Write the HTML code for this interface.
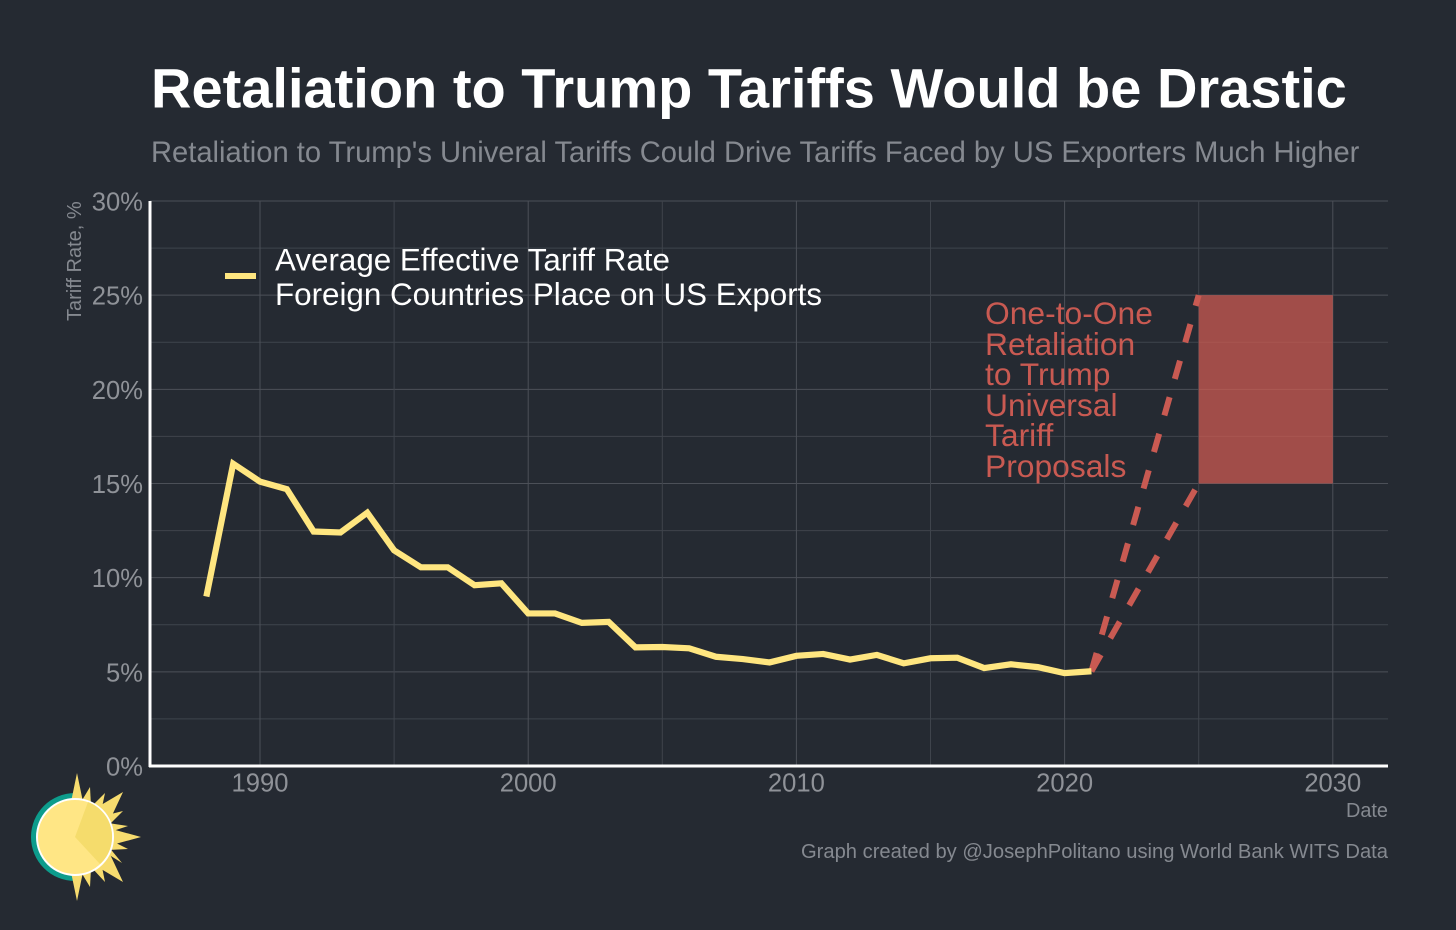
<!DOCTYPE html>
<html lang="en">
<head>
<meta charset="utf-8">
<title>Retaliation to Trump Tariffs Would be Drastic</title>
<style>
html,body{margin:0;padding:0;background:#252a32;width:1456px;height:930px;overflow:hidden}
svg{display:block;font-family:"Liberation Sans",Arial,sans-serif}
</style>
</head>
<body>
<svg id="chart" width="1456" height="930" viewBox="0 0 1456 930">
  <rect x="0" y="0" width="1456" height="930" fill="#252a32"/>
  <text x="151" y="107.5" font-size="56" font-weight="700" fill="#ffffff">Retaliation to Trump Tariffs Would be Drastic</text>
  <text x="151" y="162" font-size="29.15" fill="#858990">Retaliation to Trump's Univeral Tariffs Could Drive Tariffs Faced by US Exporters Much Higher</text>
  <g id="grid"></g>
  <g id="band"></g>
  <g id="series"></g>
  <g id="axes"></g>
  <text transform="translate(81,321) rotate(-90)" font-size="20" fill="#858990">Tariff Rate, %</text>
  <text x="1388" y="817" text-anchor="end" font-size="19.9" fill="#858990">Date</text>
  <text x="1388" y="858" text-anchor="end" font-size="20.17" fill="#858990">Graph created by @JosephPolitano using World Bank WITS Data</text>
  <g>
    <rect x="225" y="273" width="31" height="6" fill="#ffe680"/>
    <text font-size="31.35" fill="#ffffff">
      <tspan x="275" y="270.5">Average Effective Tariff Rate</tspan>
      <tspan x="275" y="305">Foreign Countries Place on US Exports</tspan>
    </text>
  </g>
  <text font-size="31.8" fill="#c95a52">
    <tspan x="985" y="324">One-to-One</tspan>
    <tspan x="985" y="355">Retaliation</tspan>
    <tspan x="985" y="385">to Trump</tspan>
    <tspan x="985" y="416">Universal</tspan>
    <tspan x="985" y="446">Tariff</tspan>
    <tspan x="985" y="477">Proposals</tspan>
  </text>
  <g>
    <path d="M75 793 A44 44 0 0 0 75 881 Z" fill="#0d9c8c"/>
    <g fill="#f7dc6f">
      <polygon points="77,773 71,802 83,802"/>
      <polygon points="77,901 71,872 83,872"/>
      <polygon points="141,837 108,828 108,846"/>
      <polygon points="123,792 96,808 108,824"/>
      <polygon points="123,882 96,866 108,850"/>
      <polygon points="90,787 81,802 91,806"/>
      <polygon points="105,793 92,806 101,812"/>
      <polygon points="123,811 103,816 108,826"/>
      <polygon points="128,826 108,823 110,832"/>
      <polygon points="90,887 81,872 91,868"/>
      <polygon points="105,882 92,868 101,862"/>
      <polygon points="122,863 103,851 108,846"/>
      <polygon points="128,849 110,840 108,850"/>
    </g>
    <circle cx="75" cy="837" r="38" fill="#ffe685" stroke="#ffffff" stroke-width="2"/>
    <path d="M75 837 L88 802 A37 37 0 0 1 100 864 Z" fill="#f5dc6c"/>
  </g>
</svg>
<script>
const years = [1988,1989,1990,1991,1992,1993,1994,1995,1996,1997,1998,1999,2000,2001,2002,2003,2004,2005,2006,2007,2008,2009,2010,2011,2012,2013,2014,2015,2016,2017,2018,2019,2020,2021];
const tariffRate = [9,16.05,15.1,14.7,12.45,12.4,13.45,11.45,10.55,10.55,9.6,9.7,8.1,8.1,7.6,7.65,6.3,6.32,6.25,5.8,5.68,5.5,5.85,5.95,5.65,5.9,5.45,5.72,5.75,5.2,5.4,5.25,4.93,5.03];
const xTickYears = [1990,2000,2010,2020,2030];
const xGridYears = [1990,1995,2000,2005,2010,2015,2020,2025,2030];
const yTickValues = [0,5,10,15,20,25,30];
const yGridValues = [2.5,5,7.5,10,12.5,15,17.5,20,22.5,25,27.5,30];
const rangeStartYear = 2025;
const rangeEndYear = 2030;
const rangeLow = 15;
const rangeHigh = 25;
const projectionStartYear = 2021;
const projectionStartValue = 5.03;

const NS = 'http://www.w3.org/2000/svg';
const PANEL_LEFT = 150;
const PANEL_RIGHT = 1388;
const PANEL_TOP = 201;
const PANEL_BOTTOM = 766;
function xScale(year) { return 260 + (year - 1990) * 26.82; }
function yScale(value) { return PANEL_BOTTOM - value * (PANEL_BOTTOM - PANEL_TOP) / 30; }
function make(tag, attrs, parent) {
  const el = document.createElementNS(NS, tag);
  Object.keys(attrs).forEach(function (k) { el.setAttribute(k, attrs[k]); });
  parent.appendChild(el);
  return el;
}
const gridLayer = document.getElementById('grid');
const bandLayer = document.getElementById('band');
const seriesLayer = document.getElementById('series');
const axesLayer = document.getElementById('axes');

yGridValues.forEach(function (v) {
  const line = make('line', {x1: PANEL_LEFT, x2: PANEL_RIGHT, y1: yScale(v), y2: yScale(v), stroke: v % 5 === 0 ? '#4c5058' : '#3f444c', 'stroke-width': 1}, gridLayer);
  
  
});
xGridYears.forEach(function (y) {
  const line = make('line', {x1: xScale(y), x2: xScale(y), y1: PANEL_TOP, y2: PANEL_BOTTOM, stroke: y % 10 === 0 ? '#4c5058' : '#3f444c', 'stroke-width': 1}, gridLayer);
  
  
});

const band = make('rect', {x: xScale(rangeStartYear), y: yScale(rangeHigh), width: xScale(rangeEndYear) - xScale(rangeStartYear), height: yScale(rangeLow) - yScale(rangeHigh), fill: '#d55d53', 'fill-opacity': 0.7}, bandLayer);



const dashHigh = make('line', {x1: xScale(projectionStartYear), y1: yScale(projectionStartValue), x2: xScale(rangeStartYear), y2: yScale(rangeHigh), stroke: '#c95a52', 'stroke-width': 6, 'stroke-dasharray': '19 19'}, seriesLayer);


const dashLow = make('line', {x1: xScale(projectionStartYear), y1: yScale(projectionStartValue), x2: xScale(rangeStartYear), y2: yScale(rangeLow), stroke: '#c95a52', 'stroke-width': 6, 'stroke-dasharray': '19 19'}, seriesLayer);



const points = years.map(function (y, i) { return xScale(y) + ',' + yScale(tariffRate[i]); }).join(' ');
const tariffLine = make('polyline', {points: points, fill: 'none', stroke: '#ffe680', 'stroke-width': 6.2, 'stroke-linejoin': 'miter'}, seriesLayer);



const yAxisLine = make('line', {x1: PANEL_LEFT, x2: PANEL_LEFT, y1: PANEL_TOP, y2: PANEL_BOTTOM + 1, stroke: '#ffffff', 'stroke-width': 3}, axesLayer);


const xAxisLine = make('line', {x1: PANEL_LEFT - 1, x2: PANEL_RIGHT, y1: PANEL_BOTTOM, y2: PANEL_BOTTOM, stroke: '#ffffff', 'stroke-width': 3}, axesLayer);



yTickValues.forEach(function (v) {
  const t = make('text', {x: 143, y: yScale(v) + 9.5, 'text-anchor': 'end', 'font-size': 25.6, fill: '#8f9298'}, axesLayer);
  t.textContent = v + '%';
  
  
});
xTickYears.forEach(function (y) {
  const t = make('text', {x: xScale(y), y: 791.5, 'text-anchor': 'middle', 'font-size': 25.6, fill: '#8f9298'}, axesLayer);
  t.textContent = String(y);
  
  
});
</script>
</body>
</html>
